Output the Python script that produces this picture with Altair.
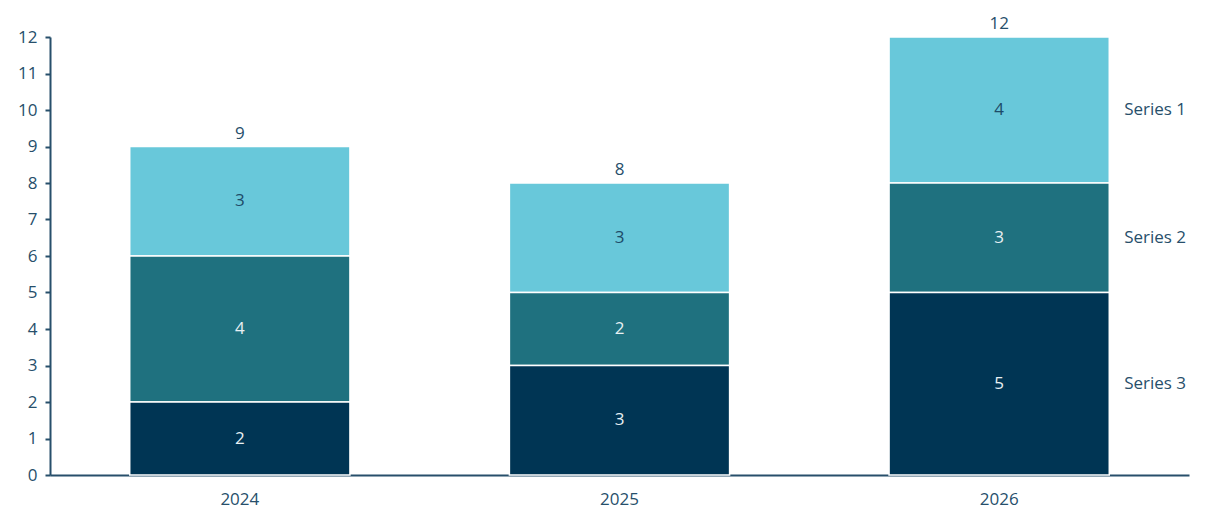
import altair as alt
import pandas as pd

#===== data =====
years = ["2024", "2025", "2026"]
series = ["Series 1", "Series 2", "Series 3"]
series_1 = [3, 3, 4]
series_2 = [4, 2, 3]
series_3 = [2, 3, 5]
y_ticks = list(range(0, 13))

colors = ["#68c8da", "#1f717f", "#003554"]
label_colors = ["#1d4b68", "#e8f0f3", "#e8f0f3"]
axis_color = "#274f6b"
font = "Open Sans"

rows = []
for name, vals, order in zip(series, [series_1, series_2, series_3], [3, 2, 1]):
    for yr, v in zip(years, vals):
        rows.append({"year": yr, "series": name, "value": v, "order": order})
df = pd.DataFrame(rows)

base = alt.Chart(df).transform_stack(
    stack="value", groupby=["year"], as_=["y0", "y1"], sort=[alt.SortField("order")]
).transform_calculate(mid="(datum.y0 + datum.y1) / 2")

x_scale = alt.Scale(paddingInner=0.42, paddingOuter=0.21)
x_axis = alt.Axis(labelAngle=0, ticks=False, labelPadding=16)
y_scale = alt.Scale(domain=[0, 12], nice=False)
y_axis = alt.Axis(values=y_ticks, grid=False, tickSize=5, labelPadding=8, labelOverlap=False)

bars = base.mark_bar(stroke="white", strokeWidth=1.5).encode(
    x=alt.X("year:N", title=None, scale=x_scale, axis=x_axis),
    y=alt.Y("y0:Q", scale=y_scale, title=None, axis=y_axis),
    y2="y1:Q",
    color=alt.Color("series:N", scale=alt.Scale(domain=series, range=colors), legend=None),
)

seg_labels = base.mark_text(fontSize=17, font=font).encode(
    x=alt.X("year:N", title=None, scale=x_scale, axis=x_axis),
    y=alt.Y("mid:Q", scale=y_scale, title=None, axis=y_axis),
    text="value:Q",
    color=alt.Color("series:N", scale=alt.Scale(domain=series, range=label_colors), legend=None),
)

totals = alt.Chart(df).mark_text(fontSize=17, font=font, baseline="bottom", dy=-4,
                                 color=axis_color).encode(
    x=alt.X("year:N", title=None, scale=x_scale, axis=x_axis),
    y=alt.Y("sum(value):Q", scale=y_scale, title=None, axis=y_axis),
    text="sum(value):Q",
)

names = base.transform_filter(alt.datum.year == years[-1]).mark_text(
    fontSize=17, font=font, align="left", dx=125, color=axis_color
).encode(
    x=alt.X("year:N", title=None, scale=x_scale, axis=x_axis),
    y=alt.Y("mid:Q", scale=y_scale, title=None, axis=y_axis),
    text="series:N",
)

chart = alt.layer(bars, seg_labels, totals, names).resolve_scale(color="independent").properties(
    width=1139, height=438,
    autosize=alt.AutoSizeParams(type="none"),
    padding={"left": 42, "top": 29, "right": 8, "bottom": 40},
).configure(background="white").configure_view(stroke=None).configure_axis(
    labelFont=font, labelFontSize=17, labelColor=axis_color,
    domainColor=axis_color, domainWidth=2, tickColor=axis_color, tickWidth=2,
)

chart.save("out.html", embed_options={"renderer": "svg", "actions": False})
